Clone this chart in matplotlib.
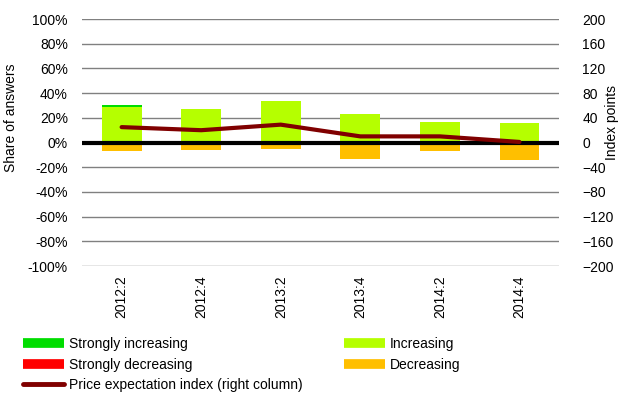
import numpy as np
import matplotlib
matplotlib.use("Agg")
import matplotlib.pyplot as plt
from matplotlib.lines import Line2D

plt.rcParams['font.family'] = ['Liberation Sans', 'DejaVu Sans']
plt.rcParams['font.size'] = 10

quarters = ["2012:2", "2012:4", "2013:2", "2013:4", "2014:2", "2014:4"]
strongly_increasing = [1, 0, 0, 0, 0, 0]
increasing = [29, 27, 34, 23, 17, 16]
decreasing = [-7, -6, -5.5, -13.5, -7, -14]
strongly_decreasing = [0, 0, 0, 0, 0, 0]
price_index = [25, 20, 29, 10, 10, 1]

C_SI = "#00dd00"
C_INC = "#b5ff00"
C_DEC = "#ffbf00"
C_SD = "#ff0000"
C_LINE = "#800000"

fig = plt.figure(figsize=(6.2, 3.96), dpi=100)
ax = fig.add_axes([0.132, 0.328, 0.770, 0.624])

x = np.arange(len(quarters))
inc = np.array(increasing) / 100
si = np.array(strongly_increasing) / 100
dec = np.array(decreasing) / 100
sd = np.array(strongly_decreasing) / 100

w = 0.5
ax.bar(x, inc, w, color=C_INC, zorder=2)
ax.bar(x, si, w, bottom=inc, color=C_SI, zorder=2)
ax.bar(x, dec, w, color=C_DEC, zorder=2)
ax.bar(x, sd, w, bottom=dec, color=C_SD, zorder=2)

ax.set_xlim(-0.5, len(quarters) - 0.5)
ax.set_ylim(-1, 1)
yt = np.arange(-1, 1.01, 0.2)
ax.set_yticks(yt)
ax.set_yticklabels([f"{int(round(v*100))}%" for v in yt])
for v in yt:
    ax.axhline(v, color="#808080", lw=1, zorder=1)
ax.axhline(0, color="black", lw=3, zorder=3)
ax.set_xticks(x)
ax.set_xticklabels(quarters, rotation=90)
ax.tick_params(axis='y', length=0, pad=10)
ax.tick_params(axis='x', length=0, pad=6.5)
for s in ax.spines.values():
    s.set_visible(False)

ax2 = ax.twinx()
ax2.plot(x, price_index, color=C_LINE, lw=3, solid_capstyle='round', zorder=4)
ax2.set_ylim(-200, 200)
ax2.set_yticks(np.arange(-200, 201, 40))
ax2.tick_params(length=0, pad=16.5)
for s in ax2.spines.values():
    s.set_visible(False)

# axis titles placed by hand, as in the reference
fig.text(11/620, 1 - 118/396, "Share of answers", rotation=90, ha='center', va='center')
fig.text(612/620, 1 - 123/396, "Index points", rotation=90, ha='center', va='center')

handles = [
    Line2D([], [], color=C_SI, lw=7, solid_capstyle='butt'),
    Line2D([], [], color=C_SD, lw=7, solid_capstyle='butt'),
    Line2D([], [], color=C_LINE, lw=3.5, solid_capstyle='round'),
    Line2D([], [], color=C_INC, lw=7, solid_capstyle='butt'),
    Line2D([], [], color=C_DEC, lw=7, solid_capstyle='butt'),
]
labels = ["Strongly increasing", "Strongly decreasing",
          "Price expectation index (right column)", "Increasing", "Decreasing"]
fig.legend(handles, labels, loc='upper left', bbox_to_anchor=(23/620, 1 - 337/396),
           ncol=2, frameon=False, borderpad=0, borderaxespad=0,
           handlelength=2.95, handletextpad=0.36, columnspacing=3.0,
           labelspacing=0.48)

plt.savefig("out.png", dpi=100)
